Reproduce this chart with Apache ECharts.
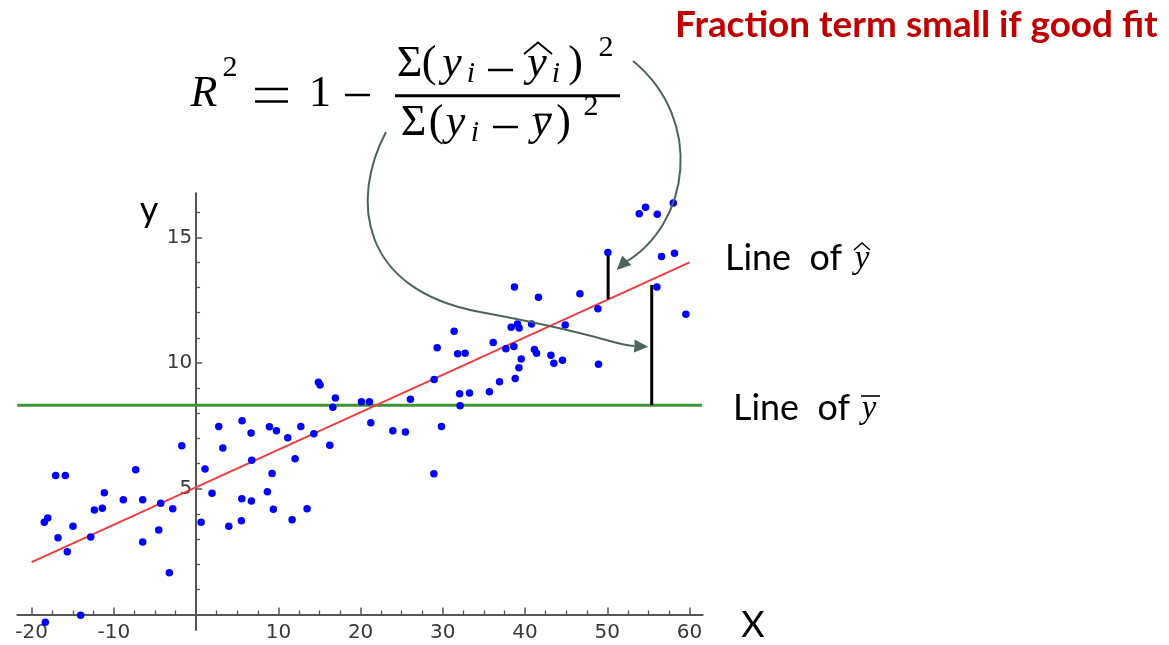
<!DOCTYPE html>
<html>
<head>
<meta charset="utf-8">
<title>R squared</title>
<script src="https://cdn.jsdelivr.net/npm/echarts@6/dist/echarts.min.js"></script>
<style>
  html, body { margin: 0; padding: 0; background: #ffffff; }
  #chart { width: 1169px; height: 645px; }
</style>
</head>
<body>
<div id="chart"></div>
<script>
// Observations (x, y)
const pointX = [-18.47,-18.05,-17.08,-15.91,-16.80,-15.67,-14.98,-12.82,-12.38,-11.41,
  -11.17,-8.86,-7.35,-6.50,-6.50,-4.55,-4.31,-3.26,-2.85,-1.75,
  -18.35,-14.04,0.60,1.08,1.93,2.75,3.24,3.97,5.50,5.55,
  5.58,6.68,6.76,6.72,8.66,8.91,9.23,9.39,9.76,11.14,
  11.67,12.03,12.73,13.49,14.31,14.87,15.07,16.25,16.62,16.93,
  20.10,21.07,21.24,23.92,25.45,26.06,28.91,28.94,29.31,29.83,
  31.37,31.80,32.71,32.04,32.10,33.24,35.67,36.12,36.89,37.66,
  38.31,38.64,38.71,38.80,39.08,39.25,39.28,39.53,40.78,41.14,
  41.39,41.63,43.14,43.50,44.55,44.88,46.67,48.86,48.93,50.07,
  53.88,54.65,56.07,58.02,56.59,58.17,56.03,59.56];
const pointY = [3.67,3.84,5.53,5.53,3.05,2.50,3.51,3.08,4.16,4.23,
  4.84,4.56,5.76,4.56,2.88,3.36,4.42,1.66,4.21,6.71,
  -0.31,-0.03,3.67,5.79,4.82,7.48,6.62,3.51,3.73,4.60,
  7.71,7.22,6.13,4.51,4.88,7.47,5.61,4.19,7.31,7.03,
  3.77,6.19,7.48,4.21,7.19,9.24,9.13,6.73,8.24,8.61,
  8.46,8.46,7.63,7.31,7.26,8.56,5.60,9.35,10.61,7.48,
  11.26,10.37,10.39,8.78,8.30,8.81,8.86,10.82,9.26,10.57,
  11.42,10.66,13.02,9.39,11.55,9.81,11.39,10.16,11.55,10.54,
  10.39,12.62,10.31,9.99,10.11,11.51,12.76,12.16,9.95,14.40,
  15.94,16.20,15.92,16.36,14.24,14.37,13.02,11.94];

// Fitted regression line (y-hat) end points
const fitX = [-20, 60];
const fitY = [2.08, 14.0];

// Mean of y (y-bar) and the span of its line
const meanY = 8.32;
const meanX = [-21.75, 61.5];

// Residual bars: one to the fitted line, one to the mean
const residX = [50.1, 55.4];
const residTop = [14.3, 13.1];
const residBottom = [12.55, 8.32];

// Axis ranges and ticks
const xRange = [-21.75, 61.6];
const yRange = [-0.62, 16.75];
const xMajorTicks = [-20, -10, 10, 20, 30, 40, 50, 60];
const xMinorTicks = [-17.5, -15, -12.5, -7.5, -5, -2.5, 2.5, 5, 7.5, 12.5, 15, 17.5,
  22.5, 25, 27.5, 32.5, 35, 37.5, 42.5, 45, 47.5, 52.5, 55, 57.5];
const yMajorTicks = [5, 10, 15];
const yMinorTicks = [1, 2, 3, 4, 6, 7, 8, 9, 11, 12, 13, 14, 16];

// Plot area
const GRID = { left: 17.3, top: 193.3, width: 685.4, height: 436.8 };

const axisColor = '#555555';
const tickFont = { color: '#383838', fontSize: 20, fontFamily: 'DejaVu Sans' };
const arrowColor = '#4b6558';
const serif = '"Liberation Serif"';
const sans = '"Lato"';

const chart = echarts.init(document.getElementById('chart'), null, { renderer: 'canvas' });

// ---- text helpers ----
const mctx = document.createElement('canvas').getContext('2d');
function fitSize(text, weight, family, width, maxSize) {
  mctx.font = weight + ' 100px ' + family;
  const s = 100 * width / mctx.measureText(text).width;
  return Math.min(s, maxSize);
}
function txt(text, x, baseline, size, opts) {
  opts = opts || {};
  const family = opts.family || serif;
  const font = (opts.italic ? 'italic ' : '') + (opts.bold ? 'bold ' : '') + size + 'px ' + family;
  const align = opts.align || 'center';
  return {
    type: 'text', z: 100,
    style: {
      text: text, x: x, y: baseline - (opts.mid || 0.32) * size,
      font: font, fill: opts.color || '#000000',
      align: align, textAlign: align, verticalAlign: 'middle', textVerticalAlign: 'middle'
    }
  };
}
function seg(x1, y1, x2, y2, w, color) {
  return { type: 'line', z: 100, shape: { x1: x1, y1: y1, x2: x2, y2: y2 },
    style: { stroke: color || '#000000', lineWidth: w } };
}
function curve(p0, c1, c2, p3) {
  return { type: 'bezierCurve', z: 100,
    shape: { x1: p0[0], y1: p0[1], cpx1: c1[0], cpy1: c1[1], cpx2: c2[0], cpy2: c2[1], x2: p3[0], y2: p3[1] },
    style: { stroke: arrowColor, lineWidth: 2, fill: null } };
}
function head(tip, from, len, half) {
  const dx = tip[0] - from[0], dy = tip[1] - from[1];
  const d = Math.hypot(dx, dy), ux = dx / d, uy = dy / d;
  const bx = tip[0] - ux * len, by = tip[1] - uy * len;
  return { type: 'polygon', z: 101,
    shape: { points: [[tip[0], tip[1]], [bx - uy * half, by + ux * half], [bx + uy * half, by - ux * half]] },
    style: { fill: arrowColor } };
}

// ---- formula R^2 = 1 - SSres / SStot ----
const F = 44, S = 30;
const formula = [
  txt('R', 204, 109, F, { italic: true }),
  txt('2', 230, 78, S),
  seg(255, 89, 288, 89, 2.5), seg(255, 101.5, 288, 101.5, 2.5),
  txt('1', 320, 109, F),
  seg(345, 95, 370, 95, 2.5),
  seg(395, 95.7, 620, 95.7, 3),
  // numerator
  txt('\u03A3', 409.5, 79, F),
  txt('(', 429, 79, F),
  txt('y', 452, 79, F, { italic: true }),
  txt('i', 471, 84, S, { italic: true }),
  seg(488, 70, 513, 70, 2.5),
  txt('y', 537, 79, F, { italic: true }),
  { type: 'polyline', z: 100, shape: { points: [[524, 54], [538, 42.5], [552, 54]] },
    style: { stroke: '#000', lineWidth: 1.8, fill: null } },
  txt('i', 556, 84, S, { italic: true }),
  txt(')', 575.5, 79, F),
  txt('2', 606, 58, S),
  // denominator
  txt('\u03A3', 413.5, 138, F),
  txt('(', 436, 138, F),
  txt('y', 455.5, 138, F, { italic: true }),
  txt('i', 475, 143, S, { italic: true }),
  seg(493, 127, 518, 127, 2.5),
  txt('y', 541.5, 138, F, { italic: true }),
  seg(535, 114.6, 552, 114.6, 2),
  txt(')', 563.5, 138, F),
  txt('2', 591, 117, S)
];

// ---- captions ----
const titleText = 'Fraction term small if good fit';
const titleSize = fitSize(titleText, 'bold', sans, 483, 37);
const lineText = 'Line  of';
const lineSize = fitSize(lineText, 'normal', sans, 117, 36);
const captions = [
  txt(titleText, 675, 37, titleSize, { family: sans, bold: true, color: '#c00000', align: 'left' }),
  txt(lineText, 725, 270, lineSize, { family: sans, align: 'left' }),
  txt('y', 862, 270, 33, { italic: true }),
  { type: 'polyline', z: 100, shape: { points: [[854, 250], [862, 243], [870, 250]] },
    style: { stroke: '#000', lineWidth: 1.5, fill: null } },
  txt(lineText, 733, 420, lineSize, { family: sans, align: 'left' }),
  txt('y', 869, 420, 33, { italic: true }),
  seg(861, 396, 880, 396, 1.6),
  txt('y', 149, 222, 36, { family: sans }),
  txt('X', 753, 637, 36, { family: sans })
];

// ---- arrows from the formula terms to the residual bars ----
const arrows = [
  curve([633, 61], [705, 120], [690, 225], [624, 263]),
  head([616.7, 270], [624, 263], 14, 6.5),
  curve([386, 132], [350, 200], [360, 290], [480, 312]),
  curve([480, 312], [600, 334], [615, 345], [634, 346]),
  head([648.3, 346.7], [634, 346], 14, 6.5)
];

// ---- series ----
const scatterData = pointX.map((x, i) => [x, pointY[i]]);
const residSeries = residX.map((x, i) => ({
  type: 'line', silent: true, symbol: 'none', z: 4,
  data: [[x, residTop[i]], [x, residBottom[i]]],
  lineStyle: { color: '#000000', width: 3 }
}));

// The axes cross at the origin: shift each axis in from the grid edge
// by the distance of zero from that edge.
const xAxisShift = -GRID.height * (0 - yRange[0]) / (yRange[1] - yRange[0]);
const yAxisShift = -GRID.width * (0 - xRange[0]) / (xRange[1] - xRange[0]);

function minorAxis(base, ticks, len) {
  return Object.assign({}, base, {
    axisLine: { show: false, onZero: false },
    axisTick: { show: true, inside: true, length: len, customValues: ticks,
      lineStyle: { color: axisColor, width: 1.3 } },
    axisLabel: { show: false },
    splitLine: { show: false }
  });
}

const xBase = { type: 'value', min: xRange[0], max: xRange[1], position: 'bottom', offset: xAxisShift };
const yBase = { type: 'value', min: yRange[0], max: yRange[1], position: 'left', offset: yAxisShift };

const option = {
  animation: false,
  backgroundColor: '#ffffff',
  grid: Object.assign({ outerBoundsMode: 'none' }, GRID),
  xAxis: [
    Object.assign({}, xBase, {
      axisLine: { show: true, onZero: false, lineStyle: { color: axisColor, width: 2 } },
      axisTick: { show: true, inside: true, length: 7, customValues: xMajorTicks,
        lineStyle: { color: axisColor, width: 1.5 } },
      axisLabel: Object.assign({ customValues: xMajorTicks, margin: 8 }, tickFont),
      splitLine: { show: false }
    }),
    minorAxis(xBase, xMinorTicks, 4)
  ],
  yAxis: [
    Object.assign({}, yBase, {
      axisLine: { show: true, onZero: false, lineStyle: { color: axisColor, width: 2 } },
      axisTick: { show: true, inside: true, length: 6, customValues: yMajorTicks,
        lineStyle: { color: axisColor, width: 1.5 } },
      axisLabel: Object.assign({ customValues: yMajorTicks, margin: 4 }, tickFont),
      splitLine: { show: false }
    }),
    minorAxis(yBase, yMinorTicks, 4)
  ],
  series: [
    {
      type: 'line', name: 'mean', silent: true, symbol: 'none', z: 3,
      data: meanX.map(x => [x, meanY]),
      lineStyle: { color: '#3a9632', width: 3 }
    },
    {
      type: 'line', name: 'fit', silent: true, symbol: 'none', z: 3,
      data: fitX.map((x, i) => [x, fitY[i]]),
      lineStyle: { color: '#f03c3c', width: 2 }
    },
    {
      type: 'scatter', name: 'data', silent: true, z: 5,
      symbol: 'circle', symbolSize: 7.5,
      data: scatterData,
      itemStyle: { color: '#0000ff', opacity: 1 }
    }
  ].concat(residSeries),
  graphic: { elements: formula.concat(captions, arrows) }
};

chart.setOption(option);
</script>
</body>
</html>
